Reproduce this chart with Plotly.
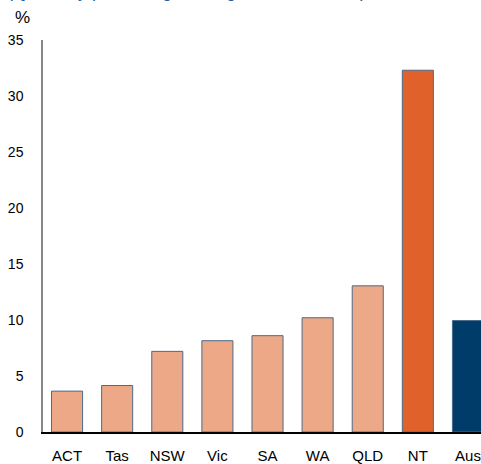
import plotly.graph_objects as go

categories = ["ACT", "Tas", "NSW", "Vic", "SA", "WA", "QLD", "NT", "Aus"]
values = [3.65, 4.15, 7.2, 8.15, 8.6, 10.2, 13.05, 32.3, 9.95]
colors = ["#EDA987"] * 7 + ["#E0622A", "#003C69"]
y_ticks = [0, 5, 10, 15, 20, 25, 30, 35]
title_text = "(Quarterly percentage change, 2011 to 2021)"

W, H = 481, 464
L, R, T, B = 43, 0, 40, 30
pw = W - L - R
ph = H - T - B

fig = go.Figure(go.Bar(
    x=categories, y=values, width=0.62,
    marker=dict(color=colors, line=dict(color="#4a6a8a", width=1)),
))

fig.update_layout(
    width=W, height=H,
    margin=dict(l=L, r=R, t=T, b=B),
    paper_bgcolor="white", plot_bgcolor="white",
    showlegend=False,
    font=dict(family="Liberation Sans, Arial, sans-serif", size=14, color="black"),
    xaxis=dict(
        range=[-0.48, 8.26], showline=True, linecolor="black", linewidth=1.5,
        showgrid=False, ticks="", ticklabelstandoff=9,
        tickfont=dict(size=15),
    ),
    yaxis=dict(
        range=[0, 35], tickvals=y_ticks, showline=True, linecolor="#888888",
        linewidth=1.5, showgrid=False, zeroline=False, ticks="",
        ticklabelstandoff=15, tickfont=dict(size=14),
    ),
    annotations=[
        dict(text="%", xref="paper", yref="paper", showarrow=False,
             x=(22 - L) / pw, y=(H - B - 17) / ph,
             xanchor="center", yanchor="middle", font=dict(size=17)),
        dict(text=title_text, xref="paper", yref="paper", showarrow=False,
             x=(5 - L) / pw, y=(H - B - 3) / ph,
             xanchor="left", yanchor="bottom",
             font=dict(size=18, color="#1F5C99")),
    ],
)

fig.write_html(
    "out.html",
    config={"displayModeBar": False},
    post_script="document.body.style.margin='0px';document.body.style.overflow='hidden';",
)
